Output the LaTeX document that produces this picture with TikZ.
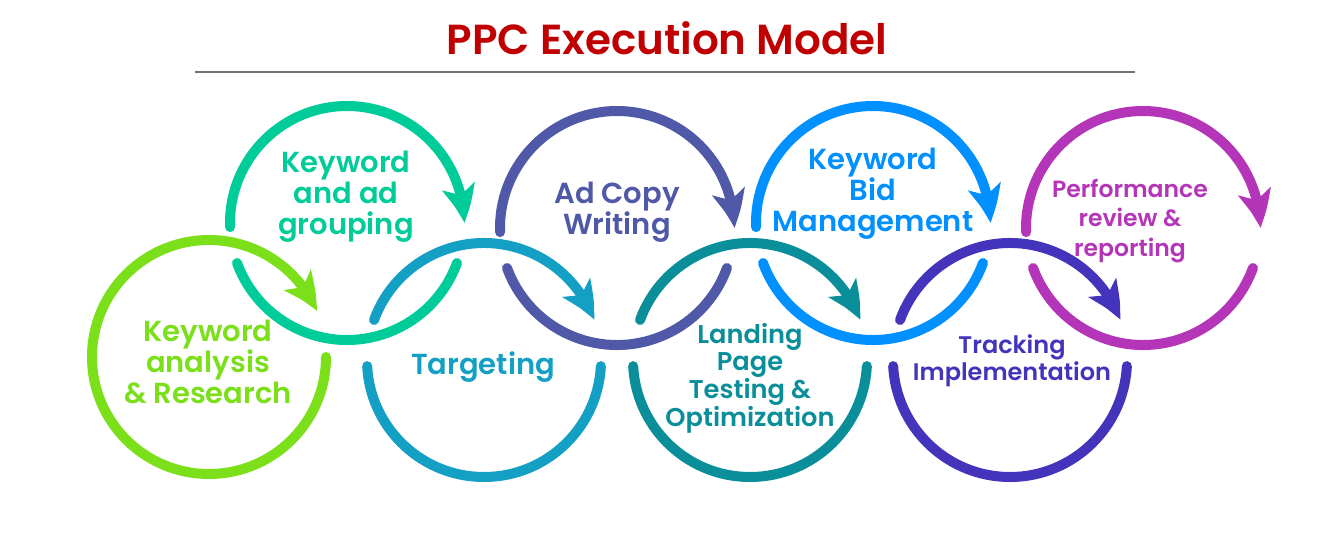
\documentclass[tikz,border=0pt]{standalone}
\usepackage{fontspec}
\setmainfont{Poppins}[BoldFont={* SemiBold}]
\usetikzlibrary{arrows.meta,bending}
\definecolor{cA}{HTML}{7BDF1A}
\definecolor{cB}{HTML}{00CC99}
\definecolor{cC}{HTML}{14A0C4}
\definecolor{cD}{HTML}{5058A8}
\definecolor{cE}{HTML}{0A8F9A}
\definecolor{cF}{HTML}{0090FF}
\definecolor{cG}{HTML}{4433BB}
\definecolor{cH}{HTML}{B535B8}
\definecolor{titlered}{HTML}{C00000}
\tikzset{
  ringline/.style={line width=10pt, line cap=round},
  ringarrow/.style={ringline, -{Stealth[length=37pt, width=33pt, inset=9pt, bend]}},
  lbl/.style={font=\bfseries\fontsize{29}{31}\selectfont, align=center, inner sep=0pt},
}
\begin{document}
\begin{tikzpicture}[x=1pt,y=-1pt]
\fill[white] (0,0) rectangle (1339,535);
\useasboundingbox (0,0) rectangle (1339,535);
% title
\node[font=\bfseries\fontsize{42}{44}\selectfont, text=titlered] (title) at (667,38) {PPC Execution Model};
\coordinate (ruleL) at (195,72);
\coordinate (ruleR) at (1135,72);
\draw[line width=1.5pt, color=black!55] (ruleL) -- (ruleR);
% ring centres
\coordinate (c1) at (209,357);
\coordinate (c2) at (347,223);
\coordinate (c3) at (484,360);
\coordinate (c4) at (617,228);
\coordinate (c5) at (750,360);
\coordinate (c6) at (873,223);
\coordinate (c7) at (1010,360);
\coordinate (c8) at (1143,228);
% ring 1
\draw[ringarrow, cA] ([shift={(0:117)}]c1) arc[start angle=0, end angle=337, radius=117];
% ring 2
\draw[ringline, cB] ([shift={(20:117)}]c2) arc[start angle=20, end angle=160, radius=117];
\draw[ringarrow, cB] ([shift={(178:117)}]c2) arc[start angle=178, end angle=360, radius=117];
% ring 3
\draw[ringline, cC] ([shift={(3:117)}]c3) arc[start angle=3, end angle=177, radius=117];
\draw[ringarrow, cC] ([shift={(200:117)}]c3) arc[start angle=200, end angle=340, radius=117];
% ring 4
\draw[ringline, cD] ([shift={(20:117)}]c4) arc[start angle=20, end angle=160, radius=117];
\draw[ringarrow, cD] ([shift={(178:117)}]c4) arc[start angle=178, end angle=360, radius=117];
% ring 5
\draw[ringline, cE] ([shift={(3:117)}]c5) arc[start angle=3, end angle=177, radius=117];
\draw[ringarrow, cE] ([shift={(200:117)}]c5) arc[start angle=200, end angle=340, radius=117];
% ring 6
\draw[ringline, cF] ([shift={(20:117)}]c6) arc[start angle=20, end angle=160, radius=117];
\draw[ringarrow, cF] ([shift={(178:117)}]c6) arc[start angle=178, end angle=360, radius=117];
% ring 7
\draw[ringline, cG] ([shift={(3:117)}]c7) arc[start angle=3, end angle=177, radius=117];
\draw[ringarrow, cG] ([shift={(200:117)}]c7) arc[start angle=200, end angle=340, radius=117];
% ring 8
\draw[ringline, cH] ([shift={(20:117)}]c8) arc[start angle=20, end angle=160, radius=117];
\draw[ringarrow, cH] ([shift={(178:117)}]c8) arc[start angle=178, end angle=360, radius=117];
% labels
\node[lbl, text=cA] (t1) at (208,362) {Keyword\\analysis\\\& Research};
\node[lbl, text=cB] (t2) at (346,197) {Keyword\\and ad\\grouping};
\node[lbl, text=cC] (t3) at (483,367) {Targeting};
\node[lbl, text=cD] (t4) at (617,212) {Ad Copy\\Writing};
\node[lbl, text=cE, font=\bfseries\fontsize{25.7}{27}\selectfont] (t5) at (750,378) {Landing\\Page\\Testing \&\\Optimization};
\node[lbl, text=cF] (t6) at (873,194) {Keyword\\Bid\\Management};
\node[lbl, text=cG, font=\bfseries\fontsize{24}{27}\selectfont] (t7) at (1012,361) {Tracking\\Implementation};
\node[lbl, text=cH, font=\bfseries\fontsize{23.5}{29.5}\selectfont] (t8) at (1130,221) {Performance\\review \&\\reporting};
\end{tikzpicture}
\end{document}
